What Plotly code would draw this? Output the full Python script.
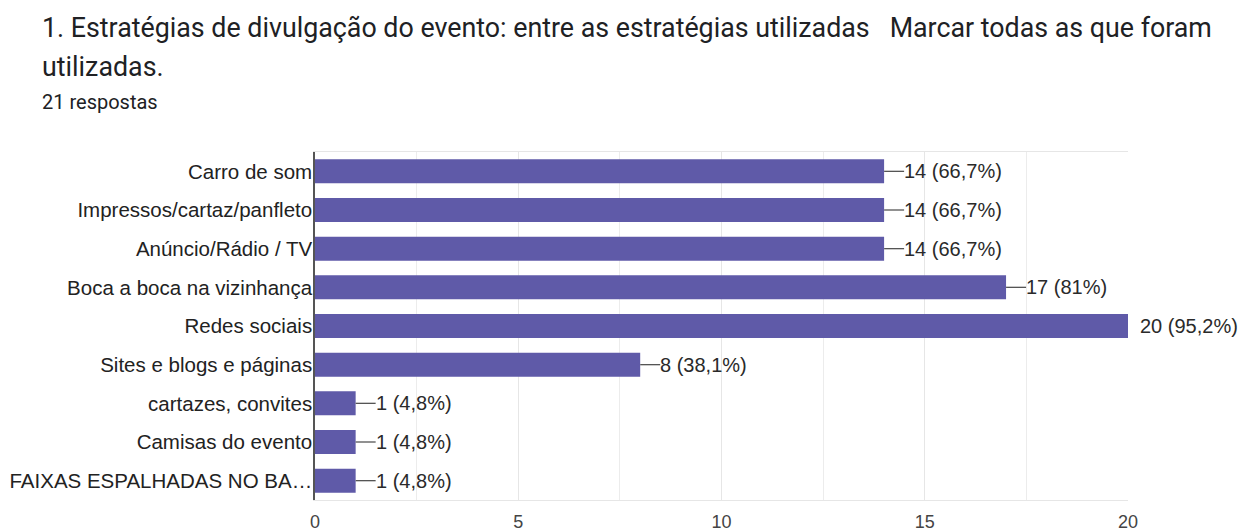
import plotly.graph_objects as go

# Survey responses: dissemination strategies (multiple choice, 21 respondents)
categories = [
    "Carro de som",
    "Impressos/cartaz/panfleto",
    "Anúncio/Rádio / TV",
    "Boca a boca na vizinhança",
    "Redes sociais",
    "Sites e blogs e páginas",
    "cartazes, convites",
    "Camisas do evento",
    "FAIXAS ESPALHADAS NO BA…",
]
counts = [14, 14, 14, 17, 20, 8, 1, 1, 1]
percent_labels = ["66,7%", "66,7%", "66,7%", "81%", "95,2%", "38,1%", "4,8%", "4,8%", "4,8%"]
x_ticks = [0, 5, 10, 15, 20]

BAR_COLOR = "#5f5aa8"
TEXT_COLOR = "#222222"
FONT = "Liberation Sans, Arial, sans-serif"

fig = go.Figure(
    go.Bar(
        x=counts,
        y=categories,
        orientation="h",
        marker=dict(color=BAR_COLOR, line=dict(width=0)),
        width=0.62,
        hoverinfo="skip",
    )
)

max_count = max(counts)
annotations = []
shapes = []
for cat, n, pct in zip(categories, counts, percent_labels):
    at_edge = n >= max_count
    if not at_edge:
        # short leader stem from the bar end to its label
        shapes.append(dict(
            type="line", xref="x", yref="y",
            xsizemode="pixel", xanchor=n, x0=0, x1=20,
            y0=cat, y1=cat,
            line=dict(color="#555555", width=1.3),
        ))
    annotations.append(dict(
        x=n, y=cat, xref="x", yref="y",
        text=f"{n} ({pct})", showarrow=False,
        xanchor="left", yanchor="middle",
        xshift=10 if at_edge else 18,
        font=dict(family=FONT, size=20, color="#2a2a2a"),
    ))

# Question title and response count (pixel positions, converted below)
header = [
    (40, 28, "1. Estratégias de divulgação do evento: entre as estratégias utilizadas   Marcar todas as que foram", 26.8),
    (40, 67, "utilizadas.", 26.8),
    (40, 102, "21 respostas", 20),
]
W, H = 1255, 531
ML, MR, MT, MB = 315, 127, 152, 31
for px, py, txt, size in header:
    annotations.append(dict(
        x=(px - ML) / (W - ML - MR), y=1 - (py - MT) / (H - MT - MB),
        xref="paper", yref="paper", xanchor="left", yanchor="middle",
        text=txt, showarrow=False,
        font=dict(family="Roboto, sans-serif", size=size, color="#202124"),
    ))

fig.update_layout(
    width=W, height=H,
    margin=dict(l=ML, r=MR, t=MT, b=MB, pad=0),
    paper_bgcolor="white", plot_bgcolor="white",
    showlegend=False,
    bargap=0.38,
    annotations=annotations,
    shapes=shapes,
    font=dict(family=FONT, color=TEXT_COLOR),
)
fig.update_xaxes(
    range=[0, 20],
    tickvals=x_ticks,
    ticktext=[str(t) for t in x_ticks],
    tickfont=dict(family=FONT, size=18, color="#444444"),
    ticks="outside", ticklen=5, tickcolor="rgba(0,0,0,0)",
    showgrid=True, gridcolor="#e6e6e6", gridwidth=1,
    minor=dict(dtick=2.5, tick0=0, showgrid=True, gridcolor="#ececec", gridwidth=1),
    showline=True, linecolor="#e6e6e6", linewidth=1, mirror=True,
    zeroline=False, fixedrange=True, automargin=False,
)
fig.update_yaxes(
    categoryorder="array", categoryarray=categories,
    autorange="reversed",
    tickfont=dict(family=FONT, size=20.5, color=TEXT_COLOR),
    ticks="", ticklabelstandoff=-3,
    showline=True, linecolor="#555555", linewidth=1.5,
    showgrid=False, zeroline=False, fixedrange=True, automargin=False,
)

fig.write_html("out.html", config={"displayModeBar": False})
